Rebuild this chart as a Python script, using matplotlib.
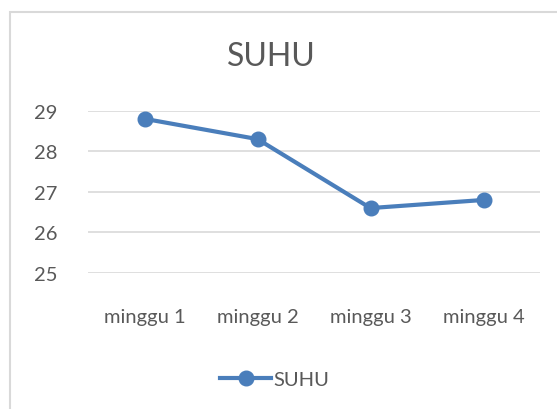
import matplotlib
matplotlib.use("Agg")
import matplotlib.pyplot as plt
from matplotlib.patches import Rectangle
from matplotlib.lines import Line2D

categories = ["minggu 1", "minggu 2", "minggu 3", "minggu 4"]
suhu = [28.8, 28.3, 26.6, 26.8]
yticks = [25, 26, 27, 28, 29]
title = "SUHU"
series_name = "SUHU"

W, H = 557, 410
plt.rcParams['font.family'] = ['Lato', 'DejaVu Sans']
fig = plt.figure(figsize=(W / 100, H / 100), dpi=100)
fig.patch.set_facecolor('white')

# chart border (extends beyond the right/bottom of the image)
fig.patches.append(Rectangle((9.5 / W, -0.1), 1.2, (H - 12.5) / H + 0.1,
                             transform=fig.transFigure, fill=False,
                             edgecolor='#D9D9D9', linewidth=1.5))

left, right = 88 / W, 540 / W
bottom, top = (H - 274) / H, (H - 111.7) / H
ax = fig.add_axes([left, bottom, right - left, top - bottom])
color = '#4A7EBB'
x = list(range(len(categories)))
ax.plot(x, suhu, color=color, linewidth=3.0, marker='o', markersize=10.5,
        clip_on=False, zorder=3)
ax.set_xlim(-0.5, len(categories) - 0.5)
ax.set_ylim(25, 29)
ax.set_yticks(yticks)
ax.set_yticklabels([str(v) for v in yticks])
ax.set_xticks(x)
ax.set_xticklabels(categories)
ax.grid(axis='y', color='#D9D9D9', linewidth=1.2)
ax.set_axisbelow(True)
for s in ax.spines.values():
    s.set_visible(False)
ax.tick_params(axis='both', length=0, colors='#595959', labelsize=14.5)
ax.tick_params(axis='y', pad=22)
ax.tick_params(axis='x', pad=25)

fig.text(271 / W, 1 - 56.5 / H, title, ha='center', va='center',
         fontsize=23, color='#595959')

handle = Line2D([], [], color=color, linewidth=3.0, marker='o', markersize=10.5)
fig.legend([handle], [series_name], loc='center', bbox_to_anchor=(275 / W, 1 - 380 / H),
           frameon=False, fontsize=14.5, labelcolor='#595959', handlelength=2.5,
           handletextpad=0.15)

fig.savefig('out.png', dpi=100)
